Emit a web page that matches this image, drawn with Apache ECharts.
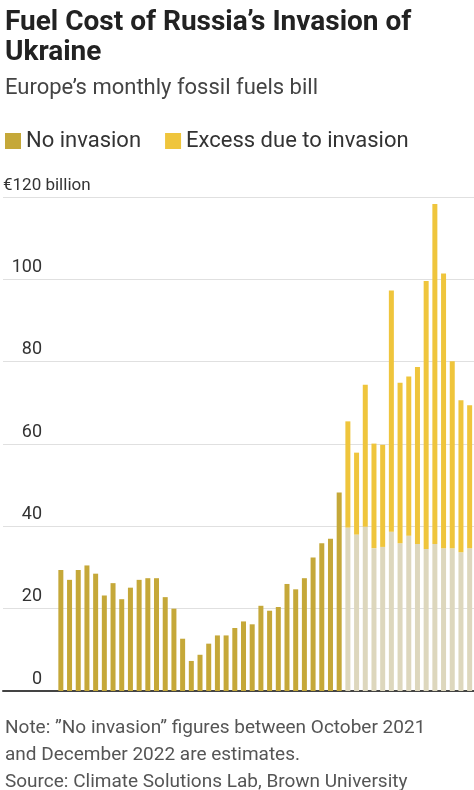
<!DOCTYPE html><html><head><meta charset="utf-8"><script src="https://cdn.jsdelivr.net/npm/echarts@6/dist/echarts.min.js"></script><style>body{margin:0}#c{width:474px;height:790px}</style></head><body><div id="c"></div><script>
const months=[];for(let y=2019;y<=2022;y++)for(let m=1;m<=12;m++)months.push(y+'-'+m);
const totals=[29.4,27.0,29.4,30.5,28.5,23.2,26.2,22.3,25.1,27.0,27.4,27.4,22.8,20.0,12.7,7.3,8.8,11.5,13.5,13.5,15.3,16.9,16.2,20.7,19.5,20.4,26.0,24.7,27.4,32.4,35.9,37.0,48.2,65.5,57.9,74.4,60.1,59.8,97.3,74.9,76.4,78.7,99.6,118.3,101.4,80.1,70.6,69.4];
const noInvasion=[29.4,27.0,29.4,30.5,28.5,23.2,26.2,22.3,25.1,27.0,27.4,27.4,22.8,20.0,12.7,7.3,8.8,11.5,13.5,13.5,15.3,16.9,16.2,20.7,19.5,20.4,26.0,24.7,27.4,32.4,35.9,37.0,48.2,39.7,38.0,39.9,34.7,35.0,38.7,35.9,37.7,35.7,34.5,35.7,34.7,34.7,33.7,34.7];
const firstInvasion=33;
const yTicks=[0,20,40,60,80,100,120];
const C_NO='#c5a839',C_EX='#efc53c',C_EST='#ddd7bd';
const ff='"Liberation Sans Narrow","Roboto",sans-serif';
const chart=echarts.init(document.getElementById('c'));
chart.setOption({animation:false,
title:[{text:'Fuel Cost of Russia’s Invasion of\nUkraine',left:0,top:3,textStyle:{fontFamily:ff,fontSize:28,fontWeight:'bold',color:'#222',lineHeight:30}},
{text:'Europe’s monthly fossil fuels bill',left:0,top:72,textStyle:{fontFamily:ff,fontSize:22,fontWeight:'normal',color:'#444'}},
{text:'Note: ”No invasion” figures between October 2021\nand December 2022 are estimates.\nSource: Climate Solutions Lab, Brown University',left:0,top:710,textStyle:{fontFamily:ff,fontSize:19,fontWeight:'normal',color:'#555',lineHeight:27}}],
legend:{left:0,top:125,icon:'rect',itemWidth:16,itemHeight:16,itemGap:24,textStyle:{fontFamily:ff,fontSize:22,color:'#333'},data:[{name:'No invasion',itemStyle:{color:C_NO}},{name:'Excess due to invasion',itemStyle:{color:C_EX}}]},
grid:[{left:0,right:0,top:197,bottom:99},{left:56.5,right:0,top:197,bottom:99}],
xAxis:[{gridIndex:0,type:'category',data:[''],axisLine:{lineStyle:{color:'#444',width:2}},axisTick:{show:false},axisLabel:{show:false}},
{gridIndex:1,type:'category',data:months,axisLine:{show:false},axisTick:{show:false},axisLabel:{show:false}}],
yAxis:[{gridIndex:0,type:'value',min:0,max:120,interval:20,splitLine:{lineStyle:{color:'#e0e0e0'}},axisLine:{show:false},axisTick:{show:false},
axisLabel:{inside:true,margin:0,verticalAlign:'bottom',align:'left',padding:[0,0,3,0],fontFamily:ff,fontSize:18,color:'#333',
formatter:v=>yTicks.includes(v)?(v===120?'{b|€120 billion}':'{a|'+v+'}'):'',rich:{a:{width:39,align:'right',fontFamily:ff,fontSize:18,color:'#333'},b:{fontFamily:ff,fontSize:17,color:'#333'}}}},
{gridIndex:1,type:'value',min:0,max:120,show:false}],
series:[{name:'No invasion',type:'bar',xAxisIndex:1,yAxisIndex:1,stack:'s',barWidth:5,data:noInvasion.map((v,i)=>({value:v,itemStyle:{color:i<firstInvasion?C_NO:C_EST}})),itemStyle:{color:C_NO}},
{name:'Excess due to invasion',type:'bar',xAxisIndex:1,yAxisIndex:1,stack:'s',barWidth:5,itemStyle:{color:C_EX},data:totals.map((t,i)=>i<firstInvasion?0:+(t-noInvasion[i]).toFixed(1))}]});
</script></body></html>
